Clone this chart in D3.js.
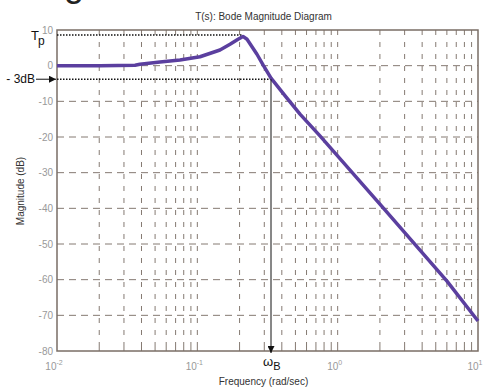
<!DOCTYPE html>
<html>
<head>
<meta charset="utf-8">
<script src="https://cdn.jsdelivr.net/npm/d3@7"></script>
<style>
  body { margin: 0; background: #fff; }
  text { font-family: "Liberation Sans", Arial, sans-serif; }
</style>
</head>
<body>
<div id="chart"></div>
<script>
// values
var freq = [0.01, 0.0203, 0.036, 0.039, 0.0542, 0.0752, 0.1045, 0.145, 0.171, 0.195, 0.2115,
            0.226, 0.266, 0.294, 0.335, 0.421, 0.539, 0.748, 2.0, 6.01, 10];
var magDb = [0, 0, 0.1, 0.4, 1.0, 1.6, 2.5, 4.4, 6.0, 7.4, 8.2,
             7.4, 3.2, 0.2, -3.5, -8.4, -13.6, -19.7, -38.8, -60.4, -71.6];
var yTicks = [10, 0, -10, -20, -30, -40, -50, -60, -70, -80];
var decades = [-2, -1, 0, 1];
var peakDb = 8.6;      // T_p level
var bwDb = -3.8;       // -3dB line as drawn
var bwFreq = 0.335;    // omega_B
var peakFreq = 0.2115;

var margin = {top: 30, right: 8, bottom: 38, left: 57},
    width = 486 - margin.left - margin.right,
    height = 389 - margin.top - margin.bottom;

var root = d3.select("#chart")
    .append("svg")
    .attr("width", 486)
    .attr("height", 389);

// clipped giant letter at top
root.append("text")
    .attr("x", 64).attr("y", -4)
    .attr("font-size", 36)
    .attr("fill", "#222")
    .text("g");

var svg = root.append("g")
    .attr("transform", "translate(" + margin.left + "," + margin.top + ")");

var x = d3.scaleLog().domain([0.01, 10]).range([0, width]);
var y = d3.scaleLinear().domain([-80, 10]).range([height, 0]);

var gridColor = "#857a72";

// vertical grid at every 1..9 x decade
var minor = [];
decades.slice(0, 3).forEach(function(e) {
    for (var k = 1; k <= 9; k++) minor.push(k * Math.pow(10, e));
});
minor = minor.filter(function(v) { return v > 0.0100001; });

svg.append("g").selectAll("line")
    .data(minor)
    .join("line")
        .attr("x1", d => x(d)).attr("x2", d => x(d))
        .attr("y1", 0).attr("y2", height)
        .attr("stroke", gridColor)
        .attr("stroke-width", 1)
        .attr("stroke-dasharray", "5,7");

svg.append("g").selectAll("line")
    .data(yTicks.filter(d => d > -80 && d < 10))
    .join("line")
        .attr("x1", 0).attr("x2", width)
        .attr("y1", d => y(d)).attr("y2", d => y(d))
        .attr("stroke", gridColor)
        .attr("stroke-width", 1)
        .attr("stroke-dasharray", "7,5");

// small ticks inside the box
svg.append("g").selectAll("line")
    .data(minor)
    .join("line")
        .attr("x1", d => x(d)).attr("x2", d => x(d))
        .attr("y1", height).attr("y2", height - 4)
        .attr("stroke", gridColor);

// box
svg.append("rect")
    .attr("width", width).attr("height", height)
    .attr("fill", "none")
    .attr("stroke", "#7a6e66")
    .attr("stroke-width", 1.5);

// y tick labels
svg.append("g").selectAll("text")
    .data(yTicks)
    .join("text")
        .attr("x", -4)
        .attr("y", d => y(d))
        .attr("dy", "0.35em")
        .attr("text-anchor", "end")
        .attr("font-size", 10)
        .attr("fill", "#999")
        .text(d => d);

// x tick labels 10^n
var xl = svg.append("g").selectAll("text")
    .data(decades)
    .join("text")
        .attr("x", d => x(Math.pow(10, d)) - 3)
        .attr("y", height + 19)
        .attr("text-anchor", "middle")
        .attr("font-size", 10)
        .attr("fill", "#999");
xl.append("tspan").text("10");
xl.append("tspan")
    .attr("font-size", 7)
    .attr("dy", -5)
    .text(d => d);

// title and axis labels
root.append("text")
    .attr("x", margin.left + width / 2 - 4)
    .attr("y", 20)
    .attr("text-anchor", "middle")
    .attr("font-size", 10)
    .attr("fill", "#333")
    .text("T(s): Bode Magnitude Diagram");

root.append("text")
    .attr("x", margin.left + width / 2 - 4)
    .attr("y", 385)
    .attr("text-anchor", "middle")
    .attr("font-size", 10)
    .attr("fill", "#333")
    .text("Frequency (rad/sec)");

root.append("text")
    .attr("transform", "translate(24," + (margin.top + 161) + ") rotate(-90)")
    .attr("text-anchor", "middle")
    .attr("font-size", 10)
    .attr("fill", "#333")
    .text("Magnitude (dB)");

// dotted guide lines
svg.append("line")
    .attr("x1", 0).attr("x2", x(peakFreq))
    .attr("y1", y(peakDb)).attr("y2", y(peakDb))
    .attr("stroke", "#111").attr("stroke-width", 1.6)
    .attr("stroke-dasharray", "1.5,1.5");
svg.append("line")
    .attr("x1", 0).attr("x2", x(bwFreq))
    .attr("y1", y(bwDb)).attr("y2", y(bwDb))
    .attr("stroke", "#111").attr("stroke-width", 1.6)
    .attr("stroke-dasharray", "1.5,1.5");

// the response curve
var line = d3.line()
    .x((d, i) => x(freq[i]))
    .y(d => y(d));
svg.append("path")
    .datum(magDb)
    .attr("fill", "none")
    .attr("stroke", "#5b3f9f")
    .attr("stroke-width", 3.5)
    .attr("stroke-linejoin", "round")
    .attr("d", line);

// arrows
var defs = root.append("defs");
defs.append("marker")
    .attr("id", "arr")
    .attr("viewBox", "0 0 10 10")
    .attr("refX", 10).attr("refY", 5)
    .attr("markerWidth", 7).attr("markerHeight", 7)
    .attr("markerUnits", "userSpaceOnUse")
    .attr("orient", "auto")
    .append("path")
        .attr("d", "M0,0L10,5L0,10z")
        .attr("fill", "#111");

svg.append("line")
    .attr("x1", x(bwFreq)).attr("x2", x(bwFreq))
    .attr("y1", y(bwDb)).attr("y2", height + 2)
    .attr("stroke", "#111").attr("stroke-width", 1)
    .attr("marker-end", "url(#arr)");

svg.append("line")
    .attr("x1", -21).attr("x2", -1)
    .attr("y1", y(bwDb)).attr("y2", y(bwDb))
    .attr("stroke", "#111").attr("stroke-width", 1)
    .attr("marker-end", "url(#arr)");

// annotation texts
svg.append("text")
    .attr("x", -22).attr("y", y(bwDb))
    .attr("dy", "0.35em")
    .attr("text-anchor", "end")
    .attr("font-size", 12)
    .attr("fill", "#111")
    .text("- 3dB");

var tp = root.append("text")
    .attr("x", 31).attr("y", 40)
    .attr("font-size", 13)
    .attr("fill", "#111");
tp.append("tspan").text("T");
tp.append("tspan").attr("font-size", 12).attr("dy", 5).attr("dx", -1).text("p");

var wb = root.append("text")
    .attr("x", margin.left + x(bwFreq) - 8)
    .attr("y", margin.top + height + 15)
    .attr("font-size", 13)
    .attr("fill", "#111");
wb.append("tspan").text("ω");
wb.append("tspan").attr("font-size", 11).attr("dy", 4).text("B");
</script>
</body>
</html>
